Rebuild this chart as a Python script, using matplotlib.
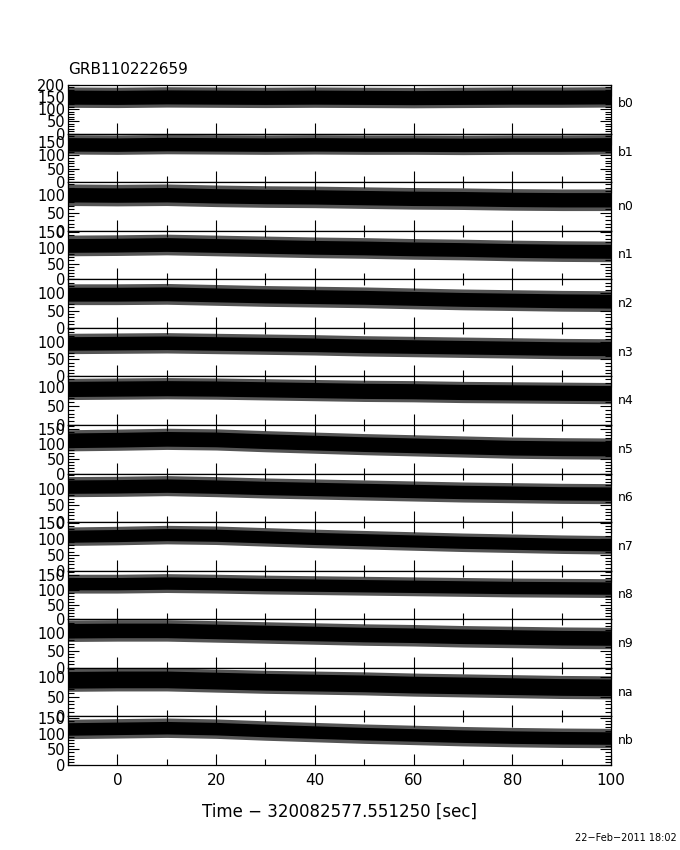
import numpy as np
import matplotlib
matplotlib.use("Agg")
import matplotlib.pyplot as plt
from matplotlib.ticker import MultipleLocator

# 探测器名称与各自的 y 轴上限（读自图中刻度）
detectors = ["b0", "b1", "n0", "n1", "n2", "n3", "n4", "n5", "n6", "n7", "n8", "n9", "na", "nb"]
ymax = [200, 180, 135, 155, 140, 143, 128, 165, 145, 152, 165, 140, 122, 155]

# 采样时间点（秒），每 10 s 读一次光变曲线的中心计数
t_knots = [-10, 0, 10, 20, 30, 40, 50, 60, 70, 80, 90, 100]
mid_b0 = [150, 149, 151, 150, 149, 150, 149, 148, 149, 150, 150, 151]
mid_b1 = [140, 139, 141, 140, 139, 140, 139, 139, 138, 139, 139, 140]
mid_n0 = [100, 99, 100, 97, 95, 94, 92, 90, 89, 87, 86, 86]
mid_n1 = [108, 109, 111, 108, 105, 102, 100, 97, 95, 92, 90, 89]
mid_n2 = [97, 97, 98, 95, 92, 90, 88, 85, 82, 80, 78, 77]
mid_n3 = [97, 98, 99, 97, 95, 93, 90, 88, 86, 84, 82, 81]
mid_n4 = [95, 96, 97, 96, 94, 92, 90, 89, 87, 86, 85, 84]
mid_n5 = [113, 115, 118, 116, 110, 105, 100, 96, 92, 88, 86, 85]
mid_n6 = [106, 107, 109, 106, 102, 99, 96, 93, 90, 88, 86, 85]
mid_n7 = [108, 110, 113, 111, 106, 101, 97, 93, 89, 86, 83, 81]
mid_n8 = [121, 121, 123, 121, 118, 116, 114, 112, 110, 108, 107, 106]
mid_n9 = [107, 108, 108, 105, 102, 99, 96, 94, 91, 89, 87, 86]
mid_na = [92, 93, 93, 90, 87, 85, 83, 80, 78, 76, 74, 73]
mid_nb = [115, 117, 119, 116, 110, 105, 100, 96, 92, 89, 87, 86]
mids = [mid_b0, mid_b1, mid_n0, mid_n1, mid_n2, mid_n3, mid_n4,
        mid_n5, mid_n6, mid_n7, mid_n8, mid_n9, mid_na, mid_nb]

# 噪声带宽度：主体半宽 与 尖峰所能达到的半宽
core_half = [29, 25, 20, 22, 20, 20, 20, 25, 20, 19, 21, 21, 21, 20]
spike_half = [42, 36, 30, 33, 30, 30, 28, 36, 30, 29, 32, 31, 29, 31]

xticks = [0, 20, 40, 60, 80, 100]

plt.rcParams["font.family"] = ["DejaVu Sans"]

fig = plt.figure(figsize=(6.8, 8.5), dpi=100)
W, H = 680.0, 850.0
left, right = 68, 611
top, bottom = 85, 765
n = len(detectors)
ph = (bottom - top) / n

for i, det in enumerate(detectors):
    y0 = top + i * ph
    ax = fig.add_axes([left / W, 1 - (y0 + ph) / H, (right - left) / W, ph / H])
    t = np.array(t_knots, dtype=float)
    m = np.array(mids[i], dtype=float)
    ax.fill_between(t, m - spike_half[i], m + spike_half[i], color="#555555", lw=0)
    ax.fill_between(t, m - core_half[i], m + core_half[i], color="black", lw=0)
    ax.set_xlim(-10, 100)
    ax.set_ylim(0, ymax[i])
    ax.xaxis.set_major_locator(MultipleLocator(20))
    ax.xaxis.set_minor_locator(MultipleLocator(10))
    ax.yaxis.set_major_locator(MultipleLocator(50))
    ax.yaxis.set_minor_locator(MultipleLocator(10))
    ax.tick_params(which="both", direction="in", top=True, right=True, width=0.8,
                   labelsize=10.5, pad=2)
    ax.tick_params(which="major", length=8)
    ax.tick_params(which="minor", length=4)
    for s in ax.spines.values():
        s.set_linewidth(0.9)
    yt = [v for v in range(0, ymax[i] + 1, 50)]
    ax.set_yticks(yt)
    ax.set_yticklabels([str(v) for v in yt])
    if i < n - 1:
        ax.set_xticklabels([])
    else:
        ax.set_xticks(xticks)
        ax.set_xticklabels([str(v) for v in xticks], fontsize=11)
        ax.tick_params(axis="x", pad=6)
    ly = 0.62 if det.startswith("b") else 0.5
    ax.text(1.012, ly, det, transform=ax.transAxes, fontsize=9, va="center", ha="left")

fig.text(left / W, 1 - 70 / H, "GRB110222659", fontsize=11, ha="left", va="center")
fig.text((left + right) / 2 / W, 1 - 812 / H, "Time \u2212 320082577.551250 [sec]",
         fontsize=12, ha="center", va="center")
fig.text(677 / W, 1 - 838 / H, "22\u2212Feb\u22122011 18:02", fontsize=7, ha="right", va="center")

fig.savefig("out.png", dpi=100)
